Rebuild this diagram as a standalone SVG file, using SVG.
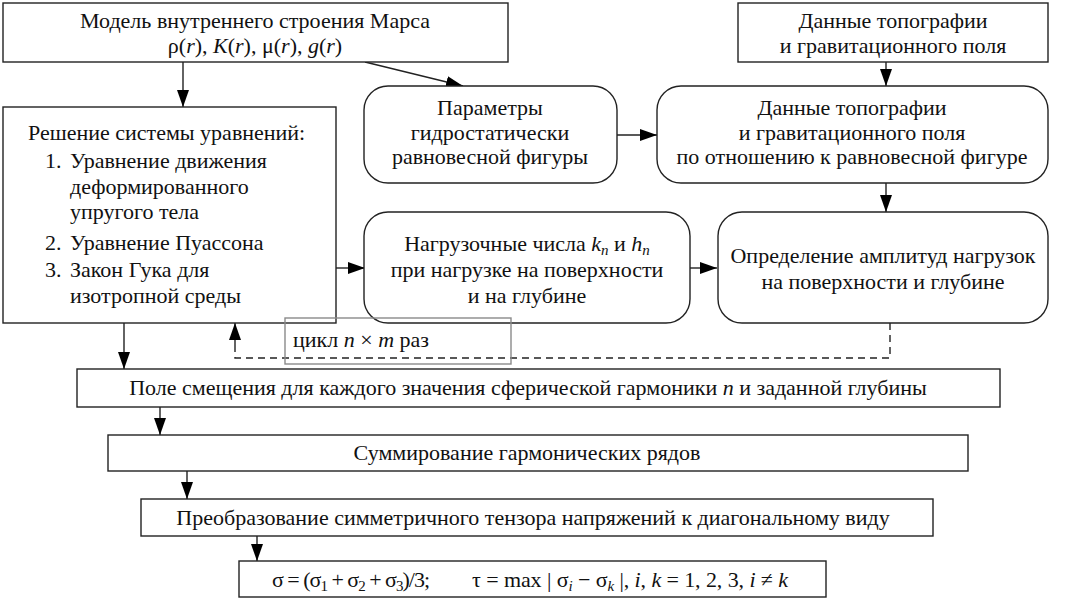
<svg xmlns="http://www.w3.org/2000/svg" width="1068" height="600" viewBox="0 0 1068 600">
<defs>
<marker id="ah" markerUnits="userSpaceOnUse" markerWidth="18" markerHeight="12" refX="17" refY="6" orient="auto">
<path d="M0,0 L17,6 L0,12 Z" fill="#000"/>
</marker>
<style>
.b{fill:#fff;stroke:#222;stroke-width:1.4}
.g{fill:none;stroke:#8a8a8a;stroke-width:1.4}
.t{font-family:"Liberation Serif","Times New Roman",serif;font-size:22px;fill:#111}
.m{text-anchor:middle}
.i{font-style:italic}
.s{font-size:15px}
.c{fill:none;stroke:#222;stroke-width:1.4}
.d{fill:none;stroke:#222;stroke-width:1.4;stroke-dasharray:7,5}
</style>
</defs>
<rect width="1068" height="600" fill="#fff"/>

<g id="connectors">
<line class="c" x1="183" y1="62" x2="183" y2="107" marker-end="url(#ah)"/>
<line class="c" x1="365" y1="62" x2="463" y2="86" marker-end="url(#ah)"/>
<line class="c" x1="886" y1="62" x2="886" y2="86" marker-end="url(#ah)"/>
<line class="c" x1="617" y1="135" x2="657" y2="135" marker-end="url(#ah)"/>
<line class="c" x1="886" y1="183" x2="886" y2="212" marker-end="url(#ah)"/>
<line class="c" x1="336" y1="268" x2="365" y2="268" marker-end="url(#ah)"/>
<line class="c" x1="690" y1="268" x2="717" y2="268" marker-end="url(#ah)"/>
<line class="c" x1="124" y1="323" x2="124" y2="369" marker-end="url(#ah)"/>
<line class="c" x1="160" y1="407" x2="160" y2="435" marker-end="url(#ah)"/>
<line class="c" x1="187" y1="471" x2="187" y2="499" marker-end="url(#ah)"/>
<line class="c" x1="257" y1="536" x2="257" y2="561" marker-end="url(#ah)"/>
<polyline class="d" points="890,323 890,358 235,358 235,342"/>
<line class="c" x1="235" y1="345" x2="235" y2="323" marker-end="url(#ah)"/>
</g>

<g id="model">
<rect class="b" x="3" y="3" width="505" height="59"/>
<text class="t m" x="255" y="28">Модель внутреннего строения Марса</text>
<text class="t m" x="255" y="53">ρ(<tspan class="i">r</tspan>), <tspan class="i">K</tspan>(<tspan class="i">r</tspan>), μ(<tspan class="i">r</tspan>), <tspan class="i">g</tspan>(<tspan class="i">r</tspan>)</text>
</g>

<g id="topo">
<rect class="b" x="738" y="3" width="310" height="59"/>
<text class="t m" x="893" y="28">Данные топографии</text>
<text class="t m" x="893" y="53">и гравитационного поля</text>
</g>

<g id="params">
<rect class="b" x="364" y="86" width="253" height="97" rx="24"/>
<text class="t m" x="490" y="115">Параметры</text>
<text class="t m" x="490" y="140">гидростатически</text>
<text class="t m" x="490" y="164">равновесной фигуры</text>
</g>

<g id="topo2">
<rect class="b" x="657" y="86" width="391" height="97" rx="24"/>
<text class="t m" x="852" y="115">Данные топографии</text>
<text class="t m" x="852" y="140">и гравитационного поля</text>
<text class="t m" x="852" y="164">по отношению к равновесной фигуре</text>
</g>

<g id="solve">
<rect class="b" x="3" y="107" width="333" height="216"/>
<text class="t" x="28" y="140">Решение системы уравнений:</text>
<text class="t" x="45" y="168">1.</text>
<text class="t" x="70" y="168">Уравнение движения</text>
<text class="t" x="70" y="194">деформированного</text>
<text class="t" x="70" y="219">упругого тела</text>
<text class="t" x="45" y="250">2.</text>
<text class="t" x="70" y="250">Уравнение Пуассона</text>
<text class="t" x="45" y="277">3.</text>
<text class="t" x="70" y="277">Закон Гука для</text>
<text class="t" x="70" y="303">изотропной среды</text>
</g>

<g id="loadnum">
<rect class="b" x="364" y="212" width="326" height="111" rx="24"/>
<text class="t m" x="527" y="251">Нагрузочные числа <tspan class="i">k</tspan><tspan class="i s" dy="4">n</tspan><tspan dy="-4"> и </tspan><tspan class="i">h</tspan><tspan class="i s" dy="4">n</tspan></text>
<text class="t m" x="527" y="277">при нагрузке на поверхности</text>
<text class="t m" x="527" y="303">и на глубине</text>
</g>

<g id="ampl">
<rect class="b" x="718" y="212" width="330" height="111" rx="24"/>
<text class="t m" x="883" y="263">Определение амплитуд нагрузок</text>
<text class="t m" x="883" y="289">на поверхности и глубине</text>
</g>

<g id="loop">
<rect class="g" x="285" y="318" width="226" height="46"/>
<text class="t" x="293" y="347">цикл <tspan class="i">n</tspan> × <tspan class="i">m</tspan> раз</text>
</g>

<g id="field">
<rect class="b" x="77" y="369" width="923" height="38"/>
<text class="t m" x="528" y="395">Поле смещения для каждого значения сферической гармоники <tspan class="i">n</tspan> и заданной глубины</text>
</g>

<g id="sum">
<rect class="b" x="108" y="435" width="860" height="36"/>
<text class="t m" x="527" y="460">Суммирование гармонических рядов</text>
</g>

<g id="transform">
<rect class="b" x="141" y="499" width="792" height="37"/>
<text class="t m" x="533" y="525">Преобразование симметричного тензора напряжений к диагональному виду</text>
</g>

<g id="stress">
<rect class="b" x="239" y="561" width="587" height="36"/>
<text class="t" x="272" y="587" textLength="158">σ = (σ<tspan class="s" dy="4">1</tspan><tspan dy="-4"> + σ</tspan><tspan class="s" dy="4">2</tspan><tspan dy="-4"> + σ</tspan><tspan class="s" dy="4">3</tspan><tspan dy="-4">)/3;</tspan></text>
<text class="t" x="472" y="587" textLength="316">τ = max | σ<tspan class="i s" dy="4">i</tspan><tspan dy="-4"> − σ</tspan><tspan class="i s" dy="4">k</tspan><tspan dy="-4"> |, </tspan><tspan class="i">i</tspan>, <tspan class="i">k</tspan> = 1, 2, 3, <tspan class="i">i</tspan> ≠ <tspan class="i">k</tspan></text>
</g>
</svg>
